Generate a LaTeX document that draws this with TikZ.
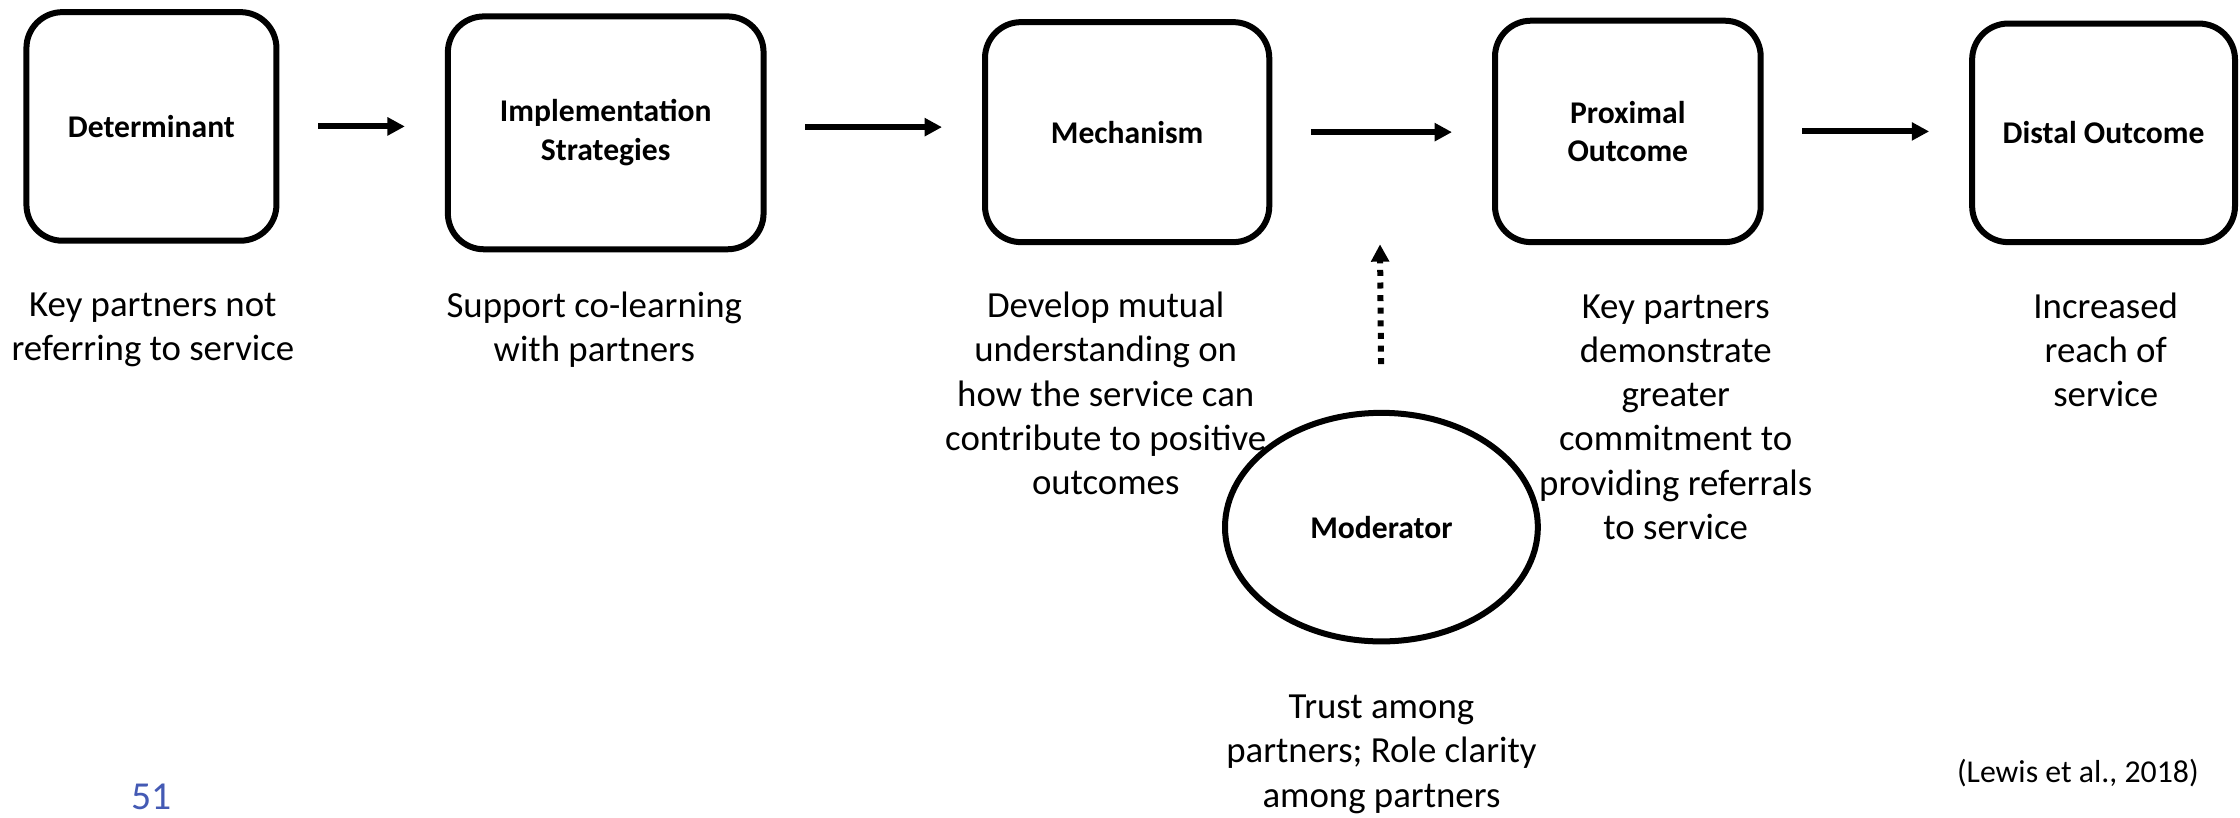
\documentclass[tikz,border=0pt]{standalone}
\usepackage{fontspec}
\setmainfont{Carlito}
\usetikzlibrary{arrows.meta,shapes.geometric}
\definecolor{slideblue}{RGB}{68,90,180}
\def\px{0.714pt}

\begin{document}
\begin{tikzpicture}[x=0.714pt,y=-0.714pt,
  box/.style={draw,line width=3pt,rounded corners=18pt,align=center,inner sep=0pt,
    font=\fontsize{15.8}{19.3}\selectfont\bfseries},
  note/.style={align=center,inner sep=0pt,font=\fontsize{18.4}{22.1}\selectfont},
  flow/.style={line width=3pt,-{Triangle[length=8.7pt,width=8.7pt]},
    shorten <=27*\px,shorten >=28*\px},
  dotflow/.style={line width=3pt,dash pattern=on 3pt off 3.3pt,
    -{Triangle[length=8.7pt,width=8.7pt]}}]
\useasboundingbox (0,0) rectangle (1568,572);
% boxes
\node[box,minimum width=175*\px,minimum height=160*\px] (det) at (106,88.5) {Determinant};
\node[box,minimum width=221*\px,minimum height=163*\px] (imp) at (424,93) {Implementation\\Strategies};
\node[box,minimum width=199*\px,minimum height=154*\px] (mech) at (789,92.5) {Mechanism};
\node[box,minimum width=186*\px,minimum height=155*\px] (prox) at (1139.5,92) {Proximal\\Outcome};
\node[box,minimum width=184*\px,minimum height=153*\px] (dist) at (1472.5,93) {Distal Outcome};
\node[draw,ellipse,line width=3pt,inner sep=0pt,minimum width=219*\px,minimum height=160*\px,
  font=\fontsize{15.8}{19.3}\selectfont\bfseries] (mod) at (967,369) {Moderator};
\coordinate (modtip) at (966,171);
% arrows
\draw[flow] (det.east) -- (det.east -| imp.west);
\draw[flow] ([yshift=4*\px]imp.east) -- ([yshift=4*\px]imp.east -| mech.west);
\draw[flow] (mech.east) -- (mech.east -| prox.west);
\draw[flow] (prox.east) -- (prox.east -| dist.west);
\draw[dotflow,shorten <=32*\px] (mod.north) -- (modtip);
% texts
\node[note] (detnote) at (107,231) {Key partners not\\referring to service};
\node[note] (impnote) at (416,231) {Support co-learning\\with partners};
\node[note] (mechnote) at (774,275.5) {Develop mutual\\understanding on\\how the service can\\contribute to positive\\outcomes};
\node[note] (proxnote) at (1173,292) {Key partners\\demonstrate\\greater\\commitment to\\providing referrals\\to service};
\node[note] (distnote) at (1474,245) {Increased\\reach of\\service};
\node[note] (modnote) at (967,528) {Trust among\\partners; Role clarity\\among partners};
\node[anchor=base,inner sep=0pt,text=slideblue,font=\fontsize{19.8}{22}\selectfont] (slideno) at (106,567) {51};
\node[inner sep=0pt,font=\fontsize{15.9}{18}\selectfont] (cite) at (1454.5,541) {(Lewis et al., 2018)};
\end{tikzpicture}
\end{document}
